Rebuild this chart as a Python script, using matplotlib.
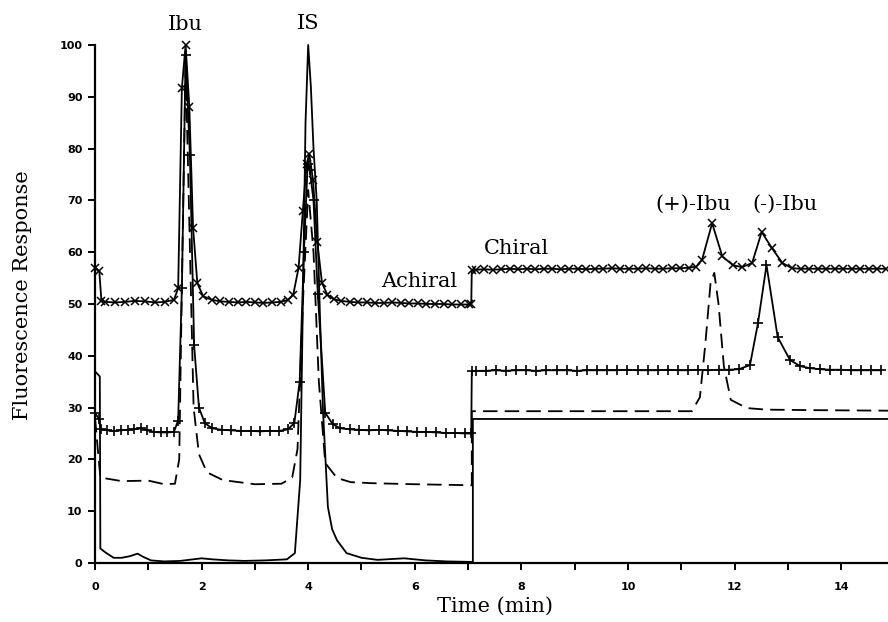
import matplotlib

matplotlib.use("Agg")
import matplotlib.pyplot as plt
from matplotlib.ticker import MultipleLocator

# trace with "x" markers (top)
t_cross = [0.00, 0.08, 0.12, 0.19, 0.38, 0.56, 0.75, 0.94, 1.13, 1.31, 1.48, 1.56,
           1.63, 1.70, 1.77, 1.84, 1.92, 2.03, 2.19, 2.35, 2.51, 2.68, 2.84, 3.00,
           3.16, 3.33, 3.49, 3.62, 3.72, 3.82, 3.90, 3.97, 4.02, 4.09, 4.17, 4.26,
           4.36, 4.48, 4.62, 4.78, 4.94, 5.10, 5.26, 5.42, 5.58, 5.74, 5.90, 6.06,
           6.22, 6.38, 6.54, 6.70, 6.86, 7.02, 7.06, 7.07, 7.14, 7.30, 7.46, 7.62,
           7.78, 7.94, 8.10, 8.26, 8.42, 8.58, 8.74, 8.90, 9.06, 9.22, 9.38, 9.54,
           9.70, 9.86, 10.02, 10.18, 10.34, 10.50, 10.66, 10.82, 10.98, 11.14, 11.28,
           11.39, 11.58, 11.77, 11.97, 12.14, 12.33, 12.51, 12.70, 12.90, 13.08,
           13.24, 13.40, 13.56, 13.72, 13.88, 14.04, 14.20, 14.36, 14.52, 14.68, 14.84]
v_cross = [57.0, 56.4, 50.6, 50.4, 50.3, 50.4, 50.6, 50.5, 50.3, 50.4, 50.8, 53.0,
           91.7, 100.0, 88.0, 64.7, 54.0, 51.5, 50.8, 50.5, 50.4, 50.3, 50.4, 50.3,
           50.2, 50.3, 50.4, 50.8, 51.8, 57.0, 68.0, 77.0, 79.0, 74.0, 62.0, 54.0,
           51.8, 50.9, 50.6, 50.4, 50.3, 50.3, 50.2, 50.2, 50.3, 50.2, 50.1, 50.1,
           50.0, 50.0, 50.0, 49.9, 49.9, 49.9, 49.9, 56.5, 56.6, 56.7, 56.6, 56.7,
           56.8, 56.7, 56.8, 56.7, 56.8, 56.8, 56.7, 56.8, 56.8, 56.7, 56.8, 56.8,
           56.9, 56.8, 56.8, 56.8, 56.9, 56.8, 56.8, 56.9, 56.9, 57.0, 57.2,
           58.5, 65.6, 59.2, 57.5, 57.1, 57.9, 63.9, 60.8, 57.9, 56.9,
           56.8, 56.8, 56.8, 56.8, 56.8, 56.8, 56.8, 56.8, 56.8, 56.8, 56.8]

# trace with "+" markers
t_plus = [0.00, 0.07, 0.11, 0.23, 0.36, 0.48, 0.61, 0.73, 0.86, 0.98, 1.11, 1.23,
          1.36, 1.48, 1.56, 1.63, 1.70, 1.78, 1.86, 1.95, 2.06, 2.20, 2.38, 2.56,
          2.74, 2.92, 3.10, 3.28, 3.46, 3.62, 3.74, 3.84, 3.92, 3.99, 4.03, 4.10,
          4.18, 4.32, 4.46, 4.60, 4.78, 4.96, 5.14, 5.32, 5.50, 5.68, 5.86, 6.04,
          6.22, 6.40, 6.58, 6.76, 6.94, 7.06, 7.07, 7.14, 7.33, 7.52, 7.71, 7.90,
          8.09, 8.28, 8.47, 8.66, 8.85, 9.04, 9.23, 9.42, 9.61, 9.80, 9.99, 10.18,
          10.37, 10.56, 10.75, 10.94, 11.13, 11.32, 11.51, 11.70, 11.89, 12.08,
          12.29, 12.44, 12.60, 12.81, 13.04, 13.23, 13.42, 13.61, 13.80, 13.99,
          14.18, 14.37, 14.56, 14.75]
v_plus = [29.0, 27.8, 25.8, 25.6, 25.5, 25.6, 25.7, 25.8, 26.0, 25.6, 25.3, 25.2,
          25.2, 25.3, 27.5, 53.0, 98.0, 78.8, 42.0, 30.0, 27.0, 26.0, 25.7, 25.6,
          25.5, 25.5, 25.4, 25.5, 25.5, 25.8, 27.0, 35.0, 60.0, 77.0, 75.9, 70.0,
          52.0, 29.0, 26.8, 26.0, 25.8, 25.7, 25.6, 25.7, 25.6, 25.5, 25.4, 25.3,
          25.3, 25.2, 25.1, 25.1, 25.0, 25.0, 37.0, 37.1, 37.1, 37.2, 37.1, 37.2,
          37.2, 37.1, 37.2, 37.2, 37.2, 37.1, 37.2, 37.2, 37.2, 37.2, 37.3, 37.2,
          37.2, 37.2, 37.3, 37.2, 37.2, 37.3, 37.2, 37.3, 37.3, 37.4,
          38.2, 46.3, 57.5, 43.6, 39.2, 38.0, 37.6, 37.4, 37.3, 37.3,
          37.2, 37.2, 37.2, 37.2]

# dashed trace
t_dash = [0.00, 0.10, 0.50, 1.00, 1.30, 1.50, 1.58, 1.64, 1.70, 1.76, 1.85, 1.95,
          2.10, 2.40, 3.00, 3.50, 3.70, 3.80, 3.90, 4.00, 4.10, 4.20, 4.32, 4.54,
          4.80, 5.20, 6.00, 7.07, 7.07, 11.20, 11.35, 11.45, 11.55, 11.62, 11.70,
          11.80, 11.93, 12.23, 12.60, 13.50, 14.88]
v_dash = [28.0, 16.5, 15.8, 15.9, 15.2, 15.3, 20.0, 60.0, 97.0, 70.0, 30.0, 21.0,
          17.5, 16.0, 15.2, 15.3, 16.5, 22.0, 50.0, 72.0, 60.0, 35.0, 19.3, 16.4,
          15.6, 15.4, 15.2, 15.0, 29.3, 29.3, 32.0, 42.0, 54.0, 56.0, 50.0,
          38.0, 31.5, 29.9, 29.6, 29.5, 29.4]

# solid trace (bottom)
t_solid = [0.00, 0.09, 0.10, 0.20, 0.35, 0.50, 0.65, 0.80, 0.90, 1.05, 1.30, 1.60,
           2.00, 2.20, 2.50, 2.80, 3.20, 3.60, 3.75, 3.85, 3.90, 3.95, 4.00, 4.05,
           4.10, 4.16, 4.22, 4.28, 4.37, 4.45, 4.54, 4.72, 5.00, 5.30, 5.80, 6.20,
           6.60, 7.09, 7.09, 14.88]
v_solid = [37.0, 36.0, 2.8, 2.0, 1.0, 1.0, 1.3, 1.8, 1.2, 0.5, 0.3, 0.4,
           0.9, 0.7, 0.5, 0.4, 0.5, 0.7, 1.9, 16.0, 50.0, 85.0, 100.0, 92.0,
           80.0, 70.0, 48.0, 29.0, 10.8, 6.5, 4.4, 1.9, 1.0, 0.6, 0.9, 0.5,
           0.3, 0.2, 27.8, 27.8]

y_ticks = [0, 10, 20, 30, 40, 50, 60, 70, 80, 90, 100]
x_ticks = [0, 2, 4, 6, 8, 10, 12, 14]

annotations = [("Ibu", 1.69, 103.9), ("IS", 4.0, 104.2), ("Achiral", 6.08, 54.4),
               ("Chiral", 7.9, 60.8), ("(+)-Ibu", 11.23, 69.3), ("(-)-Ibu", 12.95, 69.3)]

serif = "DejaVu Serif"

fig = plt.figure(figsize=(8.88, 6.22), dpi=100)
ax = fig.add_axes([0.107, 0.0949, 0.893, 0.8328])

line_kw = dict(color="black", linewidth=1.3, clip_on=False)
ax.plot(t_solid, v_solid, **line_kw)
ax.plot(t_dash, v_dash, linestyle=(0, (8, 4)), **line_kw)
ax.plot(t_plus, v_plus, marker="+", markersize=7, markeredgewidth=1.2, **line_kw)
ax.plot(t_cross, v_cross, marker="x", markersize=6, markeredgewidth=1.1, **line_kw)

ax.set_xlim(0, 14.88)
ax.set_ylim(0, 100)
ax.spines["top"].set_visible(False)
ax.spines["right"].set_visible(False)
for s in ("left", "bottom"):
    ax.spines[s].set_linewidth(1.6)

ax.set_xticks(x_ticks)
ax.xaxis.set_minor_locator(MultipleLocator(1))
ax.set_yticks(y_ticks)
ax.tick_params(which="both", direction="out", length=5, width=1.4)
ax.tick_params(axis="y", pad=4)
ax.tick_params(axis="x", pad=9)
for lab in ax.get_xticklabels() + ax.get_yticklabels():
    lab.set_fontfamily("DejaVu Sans")
    lab.set_fontweight("bold")
    lab.set_fontsize(8)

for text, tx, ty in annotations:
    ax.text(tx, ty, text, ha="center", va="center", fontsize=15, family=serif)

fig.text(23 / 888, 1 - 295 / 622, "Fluorescence Response", rotation=90,
         ha="center", va="center", fontsize=15, family=serif)
fig.text(495 / 888, 1 - 606 / 622, "Time (min)", ha="center", va="center",
         fontsize=15, family=serif)

fig.savefig("out.png", dpi=100)
